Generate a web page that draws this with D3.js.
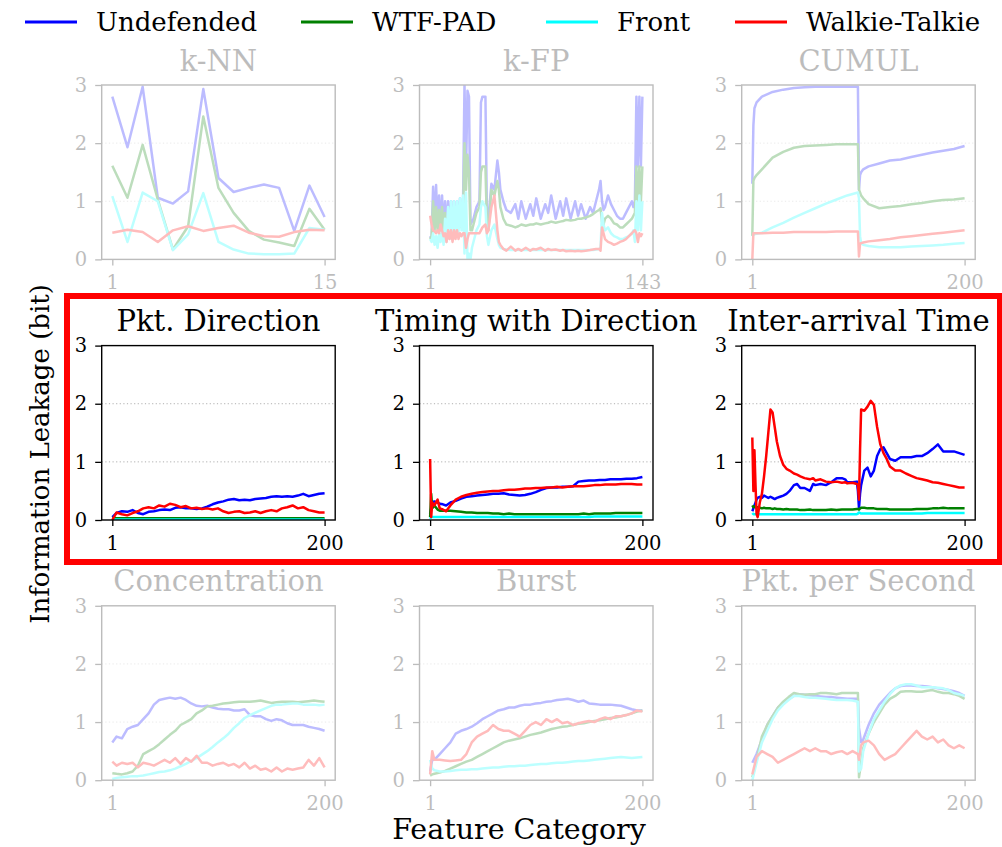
<!DOCTYPE html>
<html>
<head>
<meta charset="utf-8">
<script src="https://cdn.jsdelivr.net/npm/d3@7"></script>
<style>
  body { margin: 0; background: #fff; }
  svg { font-family: "DejaVu Serif", serif; }
</style>
</head>
<body>
<div id="chart"></div>
<script>
const seriesNames = ["Undefended", "WTF-PAD", "Front", "Walkie-Talkie"];
const seriesColors = ["#0000ff", "#008000", "#00ffff", "#ff0000"];
const yTicks = [0, 1, 2, 3];

// k-NN (15 features)
const xKnn = [1, 2, 3, 4, 5, 6, 7, 8, 9, 10, 11, 12, 13, 14, 15];
const knnUndef = [2.8, 1.93, 2.97, 1.06, 0.96, 1.17, 2.93, 1.4, 1.16, 1.23, 1.29, 1.23, 0.49, 1.27, 0.73];
const knnWtf = [1.61, 1.06, 1.97, 1.03, 0.17, 0.57, 2.46, 1.23, 0.8, 0.49, 0.34, 0.29, 0.23, 0.87, 0.51];
const knnFront = [1.09, 0.3, 1.15, 1.0, 0.16, 0.43, 1.14, 0.3, 0.17, 0.1, 0.09, 0.09, 0.1, 0.54, 0.51];
const knnWt = [0.46, 0.51, 0.47, 0.3, 0.5, 0.57, 0.49, 0.54, 0.58, 0.46, 0.4, 0.39, 0.47, 0.51, 0.5];

// k-FP (143 features)
const xKfp = [1, 2, 3, 4, 5, 6, 7, 8, 9, 10,
  11, 12, 13, 14, 15, 16, 17, 18, 19, 20,
  21, 22, 23, 24, 25, 26, 27, 28, 29, 30,
  32, 34, 35, 36, 38, 39, 40, 42, 44, 46,
  47, 48, 50, 52, 55, 58, 60, 62, 65, 68,
  70, 72, 75, 78, 80, 82, 85, 88, 90, 92,
  95, 98, 100, 102, 105, 108, 110, 112, 114, 115,
  116, 117, 118, 120, 122, 124, 126, 128, 130, 132,
  134, 136, 137, 138, 139, 140, 141, 142, 143];
const kfpUndef = [0.4, 0.35, 1.25, 0.6, 1.28, 0.55, 1.1, 0.5, 1.1, 0.45,
  1.0, 0.5, 1.0, 0.5, 1.0, 0.45, 1.0, 0.5, 1.0, 0.55,
  1.05, 0.6, 0.9, 3.0, 1.5, 2.9, 2.8, 0.6, 0.65, 0.7,
  0.9, 1.0, 2.7, 2.8, 2.8, 0.8, 0.7, 1.3, 1.2, 1.7,
  1.5, 1.2, 1.0, 0.85, 0.8, 0.95, 0.7, 1.0, 0.7, 0.95,
  0.75, 1.05, 0.7, 0.95, 0.8, 1.1, 0.7, 1.0, 0.75, 1.05,
  0.7, 1.0, 0.75, 0.95, 0.7, 0.9, 0.8, 1.0, 1.2, 1.35,
  1.0, 0.85, 0.9, 1.1, 0.95, 0.85, 0.75, 0.7, 0.7, 0.8,
  0.9, 1.0, 0.9, 1.0, 2.8, 1.6, 2.8, 1.6, 2.8];
const kfpWtf = [0.35, 0.4, 1.0, 0.5, 0.9, 0.5, 0.85, 0.5, 0.9, 0.45,
  0.8, 0.5, 0.75, 0.5, 0.8, 0.5, 0.8, 0.5, 0.8, 0.55,
  0.8, 0.55, 0.7, 2.0, 1.2, 1.8, 1.5, 0.5, 0.5, 0.6,
  0.8, 0.9, 1.5, 1.6, 1.6, 0.6, 0.5, 1.2, 1.1, 1.35,
  1.2, 0.9, 0.7, 0.6, 0.58, 0.55, 0.57, 0.6, 0.58, 0.6,
  0.6, 0.62, 0.6, 0.62, 0.63, 0.65, 0.63, 0.65, 0.66, 0.68,
  0.67, 0.68, 0.7, 0.7, 0.72, 0.75, 0.78, 0.82, 0.85, 0.88,
  0.65, 0.6, 0.7, 0.75, 0.7, 0.62, 0.6, 0.55, 0.55, 0.6,
  0.65, 0.7, 0.75, 0.8, 1.6, 1.0, 1.6, 1.0, 1.6];
const kfpFront = [0.35, 0.3, 0.45, 0.25, 0.4, 0.2, 0.45, 0.3, 0.5, 0.25,
  0.7, 0.3, 0.9, 0.35, 1.0, 0.4, 1.0, 0.45, 1.0, 0.45,
  1.05, 0.5, 1.1, 0.1, 1.15, 0.0, 0.1, 0.0, 0.2, 0.3,
  0.5, 0.6, 0.9, 1.0, 0.9, 0.4, 0.25, 0.5, 0.6, 0.35,
  0.25, 0.2, 0.18, 0.17, 0.16, 0.16, 0.16, 0.16, 0.16, 0.16,
  0.16, 0.16, 0.16, 0.16, 0.16, 0.16, 0.16, 0.16, 0.16, 0.16,
  0.16, 0.16, 0.16, 0.16, 0.16, 0.16, 0.16, 0.17, 0.18, 0.2,
  0.8, 0.6, 0.5, 0.55, 0.45, 0.4, 0.38, 0.35, 0.35, 0.38,
  0.4, 0.45, 0.5, 0.3, 1.0, 0.5, 1.1, 0.5, 1.0];
const kfpWt = [0.75, 0.6, 0.5, 0.48, 0.45, 0.5, 0.45, 0.6, 0.5, 0.4,
  0.45, 0.3, 0.5, 0.35, 0.5, 0.3, 0.5, 0.35, 0.5, 0.35,
  0.45, 0.4, 0.45, 0.45, 0.2, 0.35, 0.45, 0.45, 0.45, 0.45,
  0.45, 0.45, 0.5, 0.55, 0.6, 0.45, 0.5, 0.9, 1.1, 0.5,
  0.3, 0.25, 0.18, 0.15, 0.22, 0.15, 0.18, 0.15, 0.2, 0.15,
  0.18, 0.17, 0.2, 0.15, 0.18, 0.16, 0.17, 0.15, 0.16, 0.14,
  0.15, 0.14, 0.15, 0.14, 0.15, 0.16, 0.17, 0.18, 0.18, 0.15,
  0.55, 0.45, 0.35, 0.3, 0.28, 0.25, 0.27, 0.3, 0.32, 0.35,
  0.4, 0.45, 0.48, 0.5, 0.45, 0.3, 0.45, 0.4, 0.45];

// CUMUL (200 features)
const xCumul = [1, 2, 3, 5, 10, 20, 30, 40, 50, 60,
  70, 80, 90, 100, 101, 102, 103, 105, 110, 120,
  130, 140, 150, 160, 170, 180, 190, 200];
const cumulUndef = [1.3, 2.3, 2.6, 2.7, 2.8, 2.88, 2.92, 2.95, 2.96, 2.97,
  2.97, 2.97, 2.97, 2.97, 1.2, 1.45, 1.5, 1.55, 1.6, 1.65,
  1.7, 1.72, 1.76, 1.8, 1.84, 1.87, 1.9, 1.95];
const cumulWtf = [0.4, 1.35, 1.4, 1.45, 1.55, 1.75, 1.85, 1.92, 1.95, 1.96,
  1.97, 1.98, 1.98, 1.98, 1.2, 1.15, 1.1, 1.05, 0.95, 0.88,
  0.9, 0.92, 0.95, 0.97, 1.0, 1.02, 1.03, 1.05];
const cumulFront = [0.4, 0.42, 0.43, 0.44, 0.46, 0.55, 0.63, 0.72, 0.8, 0.88,
  0.96, 1.03, 1.1, 1.15, 1.05, 0.4, 0.28, 0.25, 0.23, 0.21,
  0.21, 0.21, 0.22, 0.23, 0.24, 0.25, 0.27, 0.28];
const cumulWt = [0.0, 0.45, 0.45, 0.45, 0.45, 0.46, 0.46, 0.47, 0.47, 0.47,
  0.47, 0.48, 0.48, 0.48, 0.05, 0.27, 0.28, 0.29, 0.31, 0.33,
  0.35, 0.38, 0.4, 0.42, 0.44, 0.46, 0.48, 0.5];

// Pkt. Direction
const xDir = [1, 5, 10, 15, 20, 25, 30, 35, 40, 45,
  50, 55, 60, 65, 70, 75, 80, 85, 90, 95,
  100, 105, 110, 115, 120, 125, 130, 135, 140, 145,
  150, 155, 160, 165, 170, 175, 180, 185, 190, 195, 200];
const dirUndef = [0.05, 0.12, 0.15, 0.14, 0.17, 0.12, 0.1, 0.14, 0.15, 0.17,
  0.18, 0.17, 0.21, 0.22, 0.2, 0.2, 0.19, 0.2, 0.23, 0.27,
  0.3, 0.32, 0.35, 0.36, 0.34, 0.35, 0.34, 0.36, 0.37, 0.38,
  0.4, 0.41, 0.4, 0.41, 0.4, 0.42, 0.45, 0.41, 0.43, 0.45, 0.46];
const dirWtf = [0.04, 0.03, 0.03, 0.03, 0.03, 0.03, 0.03, 0.03, 0.03, 0.03,
  0.03, 0.03, 0.03, 0.03, 0.03, 0.03, 0.03, 0.03, 0.03, 0.03,
  0.03, 0.03, 0.03, 0.03, 0.03, 0.03, 0.03, 0.03, 0.03, 0.03,
  0.03, 0.03, 0.03, 0.03, 0.03, 0.03, 0.03, 0.03, 0.03, 0.03, 0.03];
const dirFront = [0.01, 0.01, 0.01, 0.01, 0.01, 0.01, 0.01, 0.01, 0.01, 0.01,
  0.01, 0.01, 0.01, 0.01, 0.01, 0.01, 0.01, 0.01, 0.01, 0.01,
  0.01, 0.01, 0.01, 0.01, 0.01, 0.01, 0.01, 0.01, 0.01, 0.01,
  0.01, 0.01, 0.01, 0.01, 0.01, 0.01, 0.01, 0.01, 0.01, 0.01, 0.01];
const dirWt = [0.0, 0.13, 0.1, 0.08, 0.12, 0.15, 0.2, 0.22, 0.2, 0.25,
  0.23, 0.28, 0.26, 0.22, 0.24, 0.2, 0.21, 0.19, 0.2, 0.18,
  0.2, 0.15, 0.12, 0.14, 0.15, 0.12, 0.13, 0.15, 0.12, 0.15,
  0.17, 0.15, 0.2, 0.22, 0.25, 0.2, 0.22, 0.17, 0.15, 0.13, 0.13];

// Timing with Direction
const xTim = [1, 2, 3, 5, 8, 10, 13, 16, 20, 25,
  30, 35, 40, 45, 50, 55, 60, 65, 70, 75,
  80, 85, 90, 95, 100, 105, 110, 115, 120, 125,
  130, 135, 140, 145, 150, 155, 160, 165, 170, 175,
  180, 185, 190, 195, 200];
const timUndef = [0.1, 0.2, 0.3, 0.32, 0.3, 0.28, 0.27, 0.25, 0.3, 0.33,
  0.37, 0.4, 0.41, 0.42, 0.43, 0.44, 0.45, 0.45, 0.46, 0.44,
  0.43, 0.42, 0.43, 0.45, 0.48, 0.52, 0.55, 0.56, 0.56, 0.57,
  0.57, 0.58, 0.66, 0.67, 0.68, 0.68, 0.69, 0.69, 0.7, 0.7,
  0.7, 0.71, 0.71, 0.72, 0.74];
const timWtf = [0.05, 0.45, 0.2, 0.25, 0.18, 0.16, 0.16, 0.16, 0.16, 0.15,
  0.14, 0.13, 0.13, 0.12, 0.12, 0.12, 0.11, 0.11, 0.1, 0.11,
  0.1, 0.1, 0.1, 0.1, 0.1, 0.1, 0.1, 0.1, 0.1, 0.1,
  0.1, 0.1, 0.1, 0.11, 0.1, 0.11, 0.11, 0.11, 0.11, 0.12,
  0.12, 0.12, 0.12, 0.12, 0.12];
const timFront = [0.02, 0.05, 0.05, 0.05, 0.05, 0.05, 0.05, 0.05, 0.05, 0.05,
  0.05, 0.05, 0.05, 0.05, 0.05, 0.05, 0.05, 0.05, 0.05, 0.05,
  0.05, 0.05, 0.05, 0.05, 0.05, 0.05, 0.05, 0.05, 0.05, 0.05,
  0.05, 0.05, 0.05, 0.05, 0.05, 0.06, 0.06, 0.06, 0.06, 0.06,
  0.06, 0.06, 0.06, 0.06, 0.06];
const timWt = [1.05, 0.05, 0.3, 0.25, 0.35, 0.2, 0.18, 0.15, 0.25, 0.35,
  0.4, 0.43, 0.45, 0.47, 0.48, 0.49, 0.5, 0.5, 0.51, 0.52,
  0.52, 0.53, 0.54, 0.54, 0.55, 0.55, 0.56, 0.56, 0.57, 0.56,
  0.57, 0.58, 0.58, 0.58, 0.59, 0.6, 0.6, 0.61, 0.61, 0.61,
  0.62, 0.62, 0.62, 0.61, 0.61];

// Inter-arrival Time
const xIat = [1, 2, 3, 4, 5, 6, 8, 10, 12, 14,
  16, 18, 20, 22, 24, 27, 30, 33, 36, 40,
  43, 46, 50, 55, 58, 60, 65, 70, 75, 80,
  85, 88, 90, 95, 99, 100, 101, 102, 103, 106,
  109, 112, 115, 118, 121, 124, 127, 130, 135, 140,
  145, 150, 155, 160, 165, 170, 175, 180, 185, 190,
  195, 200];
const iatUndef = [0.15, 0.2, 0.25, 0.3, 0.35, 0.38, 0.4, 0.38, 0.42, 0.4,
  0.38, 0.4, 0.38, 0.36, 0.38, 0.4, 0.42, 0.45, 0.5, 0.6,
  0.62, 0.55, 0.55, 0.5, 0.62, 0.6, 0.62, 0.6, 0.65, 0.72,
  0.72, 0.7, 0.65, 0.65, 0.66, 0.5, 0.2, 0.45, 0.6, 0.85,
  0.9, 0.75, 0.85, 1.1, 1.22, 1.25, 1.15, 1.05, 1.02, 1.08,
  1.08, 1.08, 1.1, 1.1, 1.15, 1.22, 1.3, 1.18, 1.18, 1.18,
  1.15, 1.12];
const iatWtf = [0.25, 0.22, 0.23, 0.22, 0.22, 0.22, 0.21, 0.2, 0.21, 0.2,
  0.2, 0.2, 0.19, 0.2, 0.19, 0.19, 0.18, 0.19, 0.18, 0.18,
  0.18, 0.17, 0.17, 0.18, 0.17, 0.17, 0.17, 0.17, 0.18, 0.17,
  0.18, 0.18, 0.18, 0.18, 0.19, 0.19, 0.18, 0.2, 0.21, 0.21,
  0.2, 0.2, 0.2, 0.19, 0.19, 0.19, 0.19, 0.18, 0.18, 0.18,
  0.18, 0.18, 0.19, 0.19, 0.19, 0.2, 0.2, 0.21, 0.2, 0.2,
  0.2, 0.2];
const iatFront = [0.12, 0.1, 0.1, 0.1, 0.1, 0.1, 0.1, 0.1, 0.1, 0.1,
  0.1, 0.1, 0.1, 0.1, 0.1, 0.1, 0.1, 0.1, 0.1, 0.1,
  0.1, 0.1, 0.1, 0.1, 0.1, 0.1, 0.1, 0.1, 0.1, 0.1,
  0.1, 0.1, 0.1, 0.1, 0.1, 0.11, 0.13, 0.12, 0.11, 0.11,
  0.11, 0.11, 0.11, 0.11, 0.11, 0.11, 0.11, 0.11, 0.11, 0.11,
  0.11, 0.11, 0.11, 0.11, 0.12, 0.12, 0.12, 0.12, 0.12, 0.12,
  0.12, 0.12];
const iatWt = [1.42, 0.5, 1.2, 0.6, 0.1, 0.05, 0.3, 0.45, 0.75, 1.1,
  1.5, 1.9, 1.85, 1.6, 1.35, 1.1, 0.95, 0.88, 0.85, 0.8,
  0.78, 0.75, 0.72, 0.7, 0.72, 0.68, 0.7, 0.66, 0.65, 0.66,
  0.64, 0.65, 0.63, 0.64, 0.62, 0.6, 0.35, 1.2, 1.9, 1.88,
  1.95, 2.05, 1.98, 1.6, 1.3, 1.15, 1.05, 0.92, 0.85, 0.85,
  0.8, 0.76, 0.72, 0.7, 0.68, 0.65, 0.64, 0.62, 0.6, 0.58,
  0.56, 0.56];

// Concentration
const xConc = [1, 5, 10, 15, 20, 25, 30, 35, 40, 45,
  50, 55, 60, 65, 70, 75, 80, 85, 90, 95,
  100, 105, 110, 115, 120, 125, 130, 135, 140, 145,
  150, 155, 160, 165, 170, 175, 180, 185, 190, 195, 200];
const concUndef = [0.65, 0.75, 0.72, 0.88, 0.92, 0.95, 1.05, 1.15, 1.3, 1.38,
  1.4, 1.42, 1.4, 1.42, 1.38, 1.32, 1.28, 1.27, 1.28, 1.25,
  1.23, 1.22, 1.22, 1.2, 1.2, 1.22, 1.12, 1.1, 1.1, 1.05,
  1.02, 1.05, 1.03, 0.98, 0.95, 0.95, 0.95, 0.92, 0.9, 0.88, 0.85];
const concWtf = [0.12, 0.11, 0.1, 0.12, 0.15, 0.25, 0.45, 0.5, 0.55, 0.62,
  0.7, 0.78, 0.85, 0.95, 1.0, 1.05, 1.15, 1.2, 1.27, 1.28,
  1.3, 1.32, 1.33, 1.34, 1.35, 1.35, 1.35, 1.36, 1.37, 1.35,
  1.33, 1.34, 1.35, 1.35, 1.35, 1.34, 1.35, 1.36, 1.37, 1.36, 1.35];
const concFront = [0.02, 0.04, 0.05, 0.06, 0.07, 0.07, 0.08, 0.1, 0.12, 0.14,
  0.15, 0.17, 0.2, 0.24, 0.28, 0.33, 0.38, 0.44, 0.5, 0.57,
  0.65, 0.72, 0.8, 0.9, 0.98, 1.07, 1.12, 1.16, 1.2, 1.24,
  1.28, 1.3, 1.3, 1.31, 1.32, 1.32, 1.3, 1.3, 1.3, 1.29, 1.3];
const concWt = [0.32, 0.25, 0.3, 0.28, 0.3, 0.22, 0.3, 0.28, 0.25, 0.3,
  0.35, 0.3, 0.38, 0.28, 0.38, 0.32, 0.42, 0.3, 0.3, 0.25,
  0.28, 0.3, 0.25, 0.28, 0.22, 0.3, 0.2, 0.25, 0.18, 0.2,
  0.15, 0.22, 0.15, 0.2, 0.18, 0.2, 0.22, 0.35, 0.25, 0.38, 0.22];

// Burst
const xBurst = [1, 3, 5, 10, 15, 20, 25, 30, 35, 40,
  45, 50, 55, 60, 65, 70, 75, 80, 85, 90,
  95, 100, 105, 110, 115, 120, 125, 130, 135, 140,
  145, 150, 155, 160, 165, 170, 175, 180, 185, 190,
  195, 200];
const burstUndef = [0.15, 0.35, 0.35, 0.45, 0.55, 0.65, 0.8, 0.85, 0.88, 0.92,
  0.98, 1.05, 1.1, 1.15, 1.2, 1.22, 1.25, 1.25, 1.28, 1.3,
  1.3, 1.32, 1.33, 1.35, 1.36, 1.38, 1.39, 1.4, 1.38, 1.35,
  1.37, 1.32, 1.31, 1.3, 1.3, 1.3, 1.29, 1.28, 1.25, 1.22,
  1.2, 1.2];
const burstWtf = [0.08, 0.1, 0.11, 0.13, 0.16, 0.2, 0.24, 0.28, 0.32, 0.35,
  0.4, 0.45, 0.5, 0.55, 0.6, 0.65, 0.68, 0.7, 0.72, 0.75,
  0.78, 0.8, 0.82, 0.85, 0.88, 0.9, 0.92, 0.93, 0.95, 0.97,
  0.98, 1.0, 1.02, 1.03, 1.05, 1.07, 1.08, 1.1, 1.12, 1.15,
  1.18, 1.2];
const burstFront = [0.35, 0.2, 0.17, 0.15, 0.15, 0.16, 0.17, 0.18, 0.18, 0.19,
  0.19, 0.2, 0.21, 0.22, 0.22, 0.23, 0.24, 0.24, 0.25, 0.25,
  0.26, 0.27, 0.28, 0.28, 0.29, 0.3, 0.3, 0.31, 0.32, 0.33,
  0.33, 0.34, 0.35, 0.36, 0.37, 0.38, 0.39, 0.4, 0.39, 0.38,
  0.39, 0.4];
const burstWt = [0.1, 0.5, 0.35, 0.35, 0.34, 0.33, 0.34, 0.35, 0.45, 0.65,
  0.75, 0.8, 0.85, 0.95, 0.88, 0.85, 0.85, 0.8, 0.75, 0.85,
  0.95, 1.0, 0.95, 1.05, 1.0, 1.05, 0.98, 1.0, 0.95, 0.98,
  1.0, 1.02, 1.0, 1.05, 1.08, 1.05, 1.1, 1.1, 1.12, 1.15,
  1.2, 1.18];

// Pkt. per Second
const xPps = [1, 5, 10, 15, 20, 25, 30, 35, 40, 45,
  50, 55, 60, 65, 70, 75, 80, 85, 90, 95,
  100, 101, 103, 105, 110, 115, 120, 125, 130, 135,
  140, 145, 150, 155, 160, 165, 170, 175, 180, 185,
  190, 195, 200];
const ppsUndef = [0.3, 0.45, 0.7, 0.95, 1.1, 1.25, 1.32, 1.4, 1.45, 1.48,
  1.47, 1.46, 1.45, 1.44, 1.43, 1.43, 1.42, 1.41, 1.4, 1.4,
  1.4, 0.9, 0.65, 0.7, 0.95, 1.15, 1.3, 1.4, 1.5, 1.58,
  1.62, 1.63, 1.63, 1.62, 1.62, 1.61, 1.6, 1.58, 1.57, 1.55,
  1.53, 1.5, 1.45];
const ppsWtf = [0.05, 0.35, 0.75, 0.95, 1.1, 1.25, 1.35, 1.43, 1.5, 1.48,
  1.47, 1.48, 1.48, 1.5, 1.5, 1.49, 1.48, 1.5, 1.5, 1.5,
  1.5, 0.05, 0.3, 0.55, 0.8, 1.0, 1.15, 1.3, 1.4, 1.45,
  1.52, 1.53, 1.53, 1.52, 1.52, 1.54, 1.55, 1.52, 1.5, 1.5,
  1.48, 1.45, 1.4];
const ppsFront = [0.0, 0.3, 0.65, 0.85, 1.05, 1.2, 1.3, 1.38, 1.45, 1.45,
  1.43, 1.42, 1.42, 1.41, 1.4, 1.39, 1.38, 1.38, 1.38, 1.37,
  1.35, 0.15, 0.2, 0.5, 0.8, 1.05, 1.2, 1.35, 1.48, 1.58,
  1.63, 1.65, 1.65, 1.63, 1.6, 1.6, 1.6, 1.59, 1.58, 1.55,
  1.5, 1.48, 1.45];
const ppsWt = [0.1, 0.4, 0.5, 0.45, 0.4, 0.3, 0.35, 0.4, 0.45, 0.5,
  0.55, 0.5, 0.55, 0.5, 0.5, 0.45, 0.48, 0.5, 0.45, 0.5,
  0.45, 0.35, 0.6, 0.65, 0.68, 0.6, 0.45, 0.35, 0.4, 0.45,
  0.55, 0.65, 0.75, 0.85, 0.75, 0.7, 0.75, 0.65, 0.7, 0.6,
  0.55, 0.6, 0.55];

const panels = [
    { title: "k-NN", xs: xKnn, xMax: 15, ys: [knnUndef, knnWtf, knnFront, knnWt], faded: true },
    { title: "k-FP", xs: xKfp, xMax: 143, ys: [kfpUndef, kfpWtf, kfpFront, kfpWt], faded: true },
    { title: "CUMUL", xs: xCumul, xMax: 200, ys: [cumulUndef, cumulWtf, cumulFront, cumulWt], faded: true },
    { title: "Pkt. Direction", xs: xDir, xMax: 200, ys: [dirUndef, dirWtf, dirFront, dirWt], faded: false },
    { title: "Timing with Direction", xs: xTim, xMax: 200, ys: [timUndef, timWtf, timFront, timWt], faded: false },
    { title: "Inter-arrival Time", xs: xIat, xMax: 200, ys: [iatUndef, iatWtf, iatFront, iatWt], faded: false },
    { title: "Concentration", xs: xConc, xMax: 200, ys: [concUndef, concWtf, concFront, concWt], faded: true },
    { title: "Burst", xs: xBurst, xMax: 200, ys: [burstUndef, burstWtf, burstFront, burstWt], faded: true },
    { title: "Pkt. per Second", xs: xPps, xMax: 200, ys: [ppsUndef, ppsWtf, ppsFront, ppsWt], faded: true }
];

const width = 1002;
const height = 847;
const colLeft = [101.7, 419.5, 741.7];
const rowTop = [85, 345.6, 605.8];
const pw = 233.5;
const ph = 174.4;

const svg = d3
    .select("#chart")
    .append("svg")
    .attr("width", width)
    .attr("height", height);

// legend
const legendX = [25, 301, 546, 735];
const legend = svg.append("g");
seriesNames.forEach((name, i) => {
    legend.append("line")
        .attr("x1", legendX[i]).attr("x2", legendX[i] + 52)
        .attr("y1", 22).attr("y2", 22)
        .attr("stroke", seriesColors[i])
        .attr("stroke-width", 3);
    legend.append("text")
        .attr("x", legendX[i] + 71)
        .attr("y", 31)
        .style("font-size", "26px")
        .text(name);
});

panels.forEach((p, i) => {
    const col = i % 3;
    const row = Math.floor(i / 3);
    const g = svg.append("g")
        .attr("transform", `translate(${colLeft[col]},${rowTop[row]})`)
        .style("opacity", p.faded ? 0.26 : 1);

    const pad = 0.05 * (p.xMax - 1);
    const x = d3.scaleLinear().domain([1 - pad, p.xMax + pad]).range([0, pw]);
    const y = d3.scaleLinear().domain([0, 3]).range([ph, 0]);

    g.selectAll(".grid")
        .data([1, 2])
        .enter()
        .append("line")
        .attr("x1", 0).attr("x2", pw)
        .attr("y1", (d) => y(d)).attr("y2", (d) => y(d))
        .attr("stroke", "#b0b0b0")
        .attr("stroke-width", 1)
        .attr("stroke-dasharray", "1.2,2.4");

    const clipId = "clip" + i;
    g.append("clipPath").attr("id", clipId)
        .append("rect").attr("width", pw).attr("height", ph);

    const line = d3.line()
        .x((d, j) => x(p.xs[j]))
        .y((d) => y(d));

    p.ys.forEach((vals, s) => {
        g.append("path")
            .attr("clip-path", `url(#${clipId})`)
            .attr("d", line(vals))
            .attr("fill", "none")
            .attr("stroke", seriesColors[s])
            .attr("stroke-width", 2.5)
            .attr("stroke-linejoin", "round");
    });

    g.append("rect")
        .attr("width", pw).attr("height", ph)
        .attr("fill", "none")
        .attr("stroke", "#000")
        .attr("stroke-width", 1.4);

    const yAxis = g.append("g")
        .call(d3.axisLeft(y).tickValues(yTicks).tickFormat(d3.format("d")).tickSize(6.5).tickPadding(8));
    const xAxis = g.append("g")
        .attr("transform", `translate(0,${ph})`)
        .call(d3.axisBottom(x).tickValues([1, p.xMax]).tickFormat(d3.format("d")).tickSize(6).tickPadding(10));

    [yAxis, xAxis].forEach((a) => {
        a.attr("font-family", null).attr("font-size", null);
        a.select(".domain").remove();
        a.selectAll(".tick line").attr("stroke", "#000").attr("stroke-width", 1.3);
        a.selectAll(".tick text").attr("fill", "#000").style("font-size", "19.5px");
    });

    g.append("text")
        .attr("x", pw / 2)
        .attr("y", -14.5)
        .attr("text-anchor", "middle")
        .style("font-size", "29px")
        .text(p.title);
});

// highlight around the middle row
svg.append("rect")
    .attr("x", 67).attr("y", 296)
    .attr("width", 933).attr("height", 266)
    .attr("fill", "none")
    .attr("stroke", "#ff0000")
    .attr("stroke-width", 6);

svg.append("text")
    .attr("transform", "translate(49,454) rotate(-90)")
    .attr("text-anchor", "middle")
    .style("font-size", "26px")
    .text("Information Leakage (bit)");

svg.append("text")
    .attr("x", 519)
    .attr("y", 839)
    .attr("text-anchor", "middle")
    .style("font-size", "28.5px")
    .text("Feature Category");
</script>
</body>
</html>
